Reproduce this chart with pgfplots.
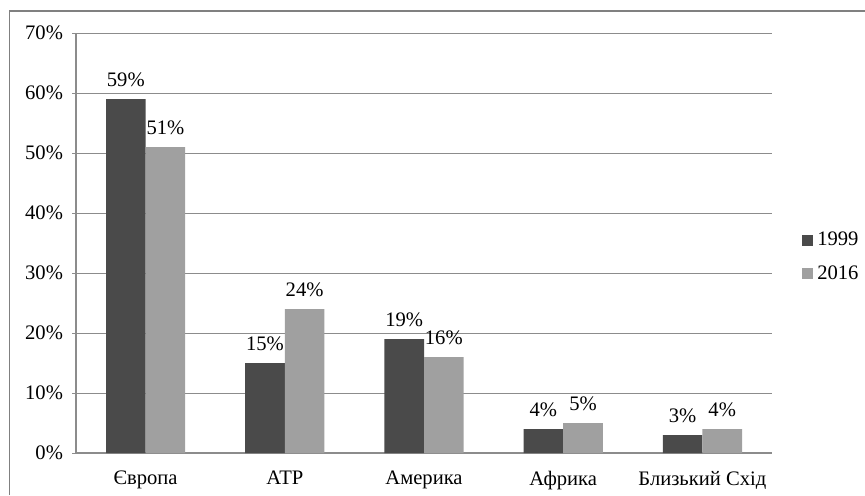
\documentclass[border=0pt]{standalone}
\usepackage{fontspec}
\setmainfont{Liberation Serif}
\usepackage{pgfplots}
\pgfplotsset{compat=1.18}
\definecolor{darkbar}{HTML}{4A4A4A}
\definecolor{lightbar}{HTML}{A0A0A0}
\definecolor{gridc}{HTML}{8C8C8C}
\definecolor{framec}{HTML}{808080}
\begin{document}
\begin{tikzpicture}
\useasboundingbox (0,0) rectangle (432.5pt,247.5pt);
\draw[framec,line width=0.8pt] (4.75pt,0) -- (4.75pt,242pt) -- (432.5pt,242pt);
\begin{axis}[
  at={(38pt,21pt)}, anchor=south west,
  scale only axis, width=348pt, height=210pt,
  ybar=0pt, bar width=19.8pt,
  xmin=-0.5, xmax=4.5, ymin=0, ymax=70,
  ytick={0,10,...,70},
  yticklabel={\pgfmathprintnumber{\tick}\%},
  xtick={0,1,2,3,4},
  xticklabels={Європа, АТР, Америка, Африка, Близький Схід},
  minor xtick={-0.5,0.5,1.5,2.5,3.5,4.5},
  xtick style={draw=none},
  minor x tick style={gridc, line width=0.5pt},
  y tick style={gridc, line width=0.5pt},
  major tick length=2pt, minor tick length=3pt,
  tick align=outside,
  axis x line*=bottom, axis y line*=left,
  axis line style={gridc, line width=0.6pt, -},
  ymajorgrids, grid style={gridc, line width=0.5pt},
  /pgf/number format/assume math mode=true,
  tick label style={font=\fontsize{10.3pt}{12pt}\selectfont, black},
  yticklabel style={xshift=-1pt},
  xticklabel style={yshift=-3.5pt},
  nodes near coords={\pgfmathprintnumber{\pgfplotspointmeta}\%},
  nodes near coords style={font=\fontsize{10.3pt}{12pt}\selectfont, black, /pgf/number format/assume math mode=true, yshift=2.5pt},
  legend style={at={(1.04,0.467)}, anchor=west, draw=none, fill=none,
    font=\fontsize{10.3pt}{12pt}\selectfont, row sep=4.5pt, inner sep=1pt,
    /tikz/every even column/.append style={column sep=0pt}},
  legend cell align=left,
  legend image code/.code={\fill[#1] (0pt,-2.75pt) rectangle (5.5pt,2.75pt);},
  clip=false,
]
\addplot[fill=darkbar, draw=none] coordinates {(0,59) (1,15) (2,19) (3,4) (4,3)};
\addplot[fill=lightbar, draw=none] coordinates {(0,51) (1,24) (2,16) (3,5) (4,4)};
\legend{1999, 2016}
\end{axis}
\end{tikzpicture}
\end{document}
